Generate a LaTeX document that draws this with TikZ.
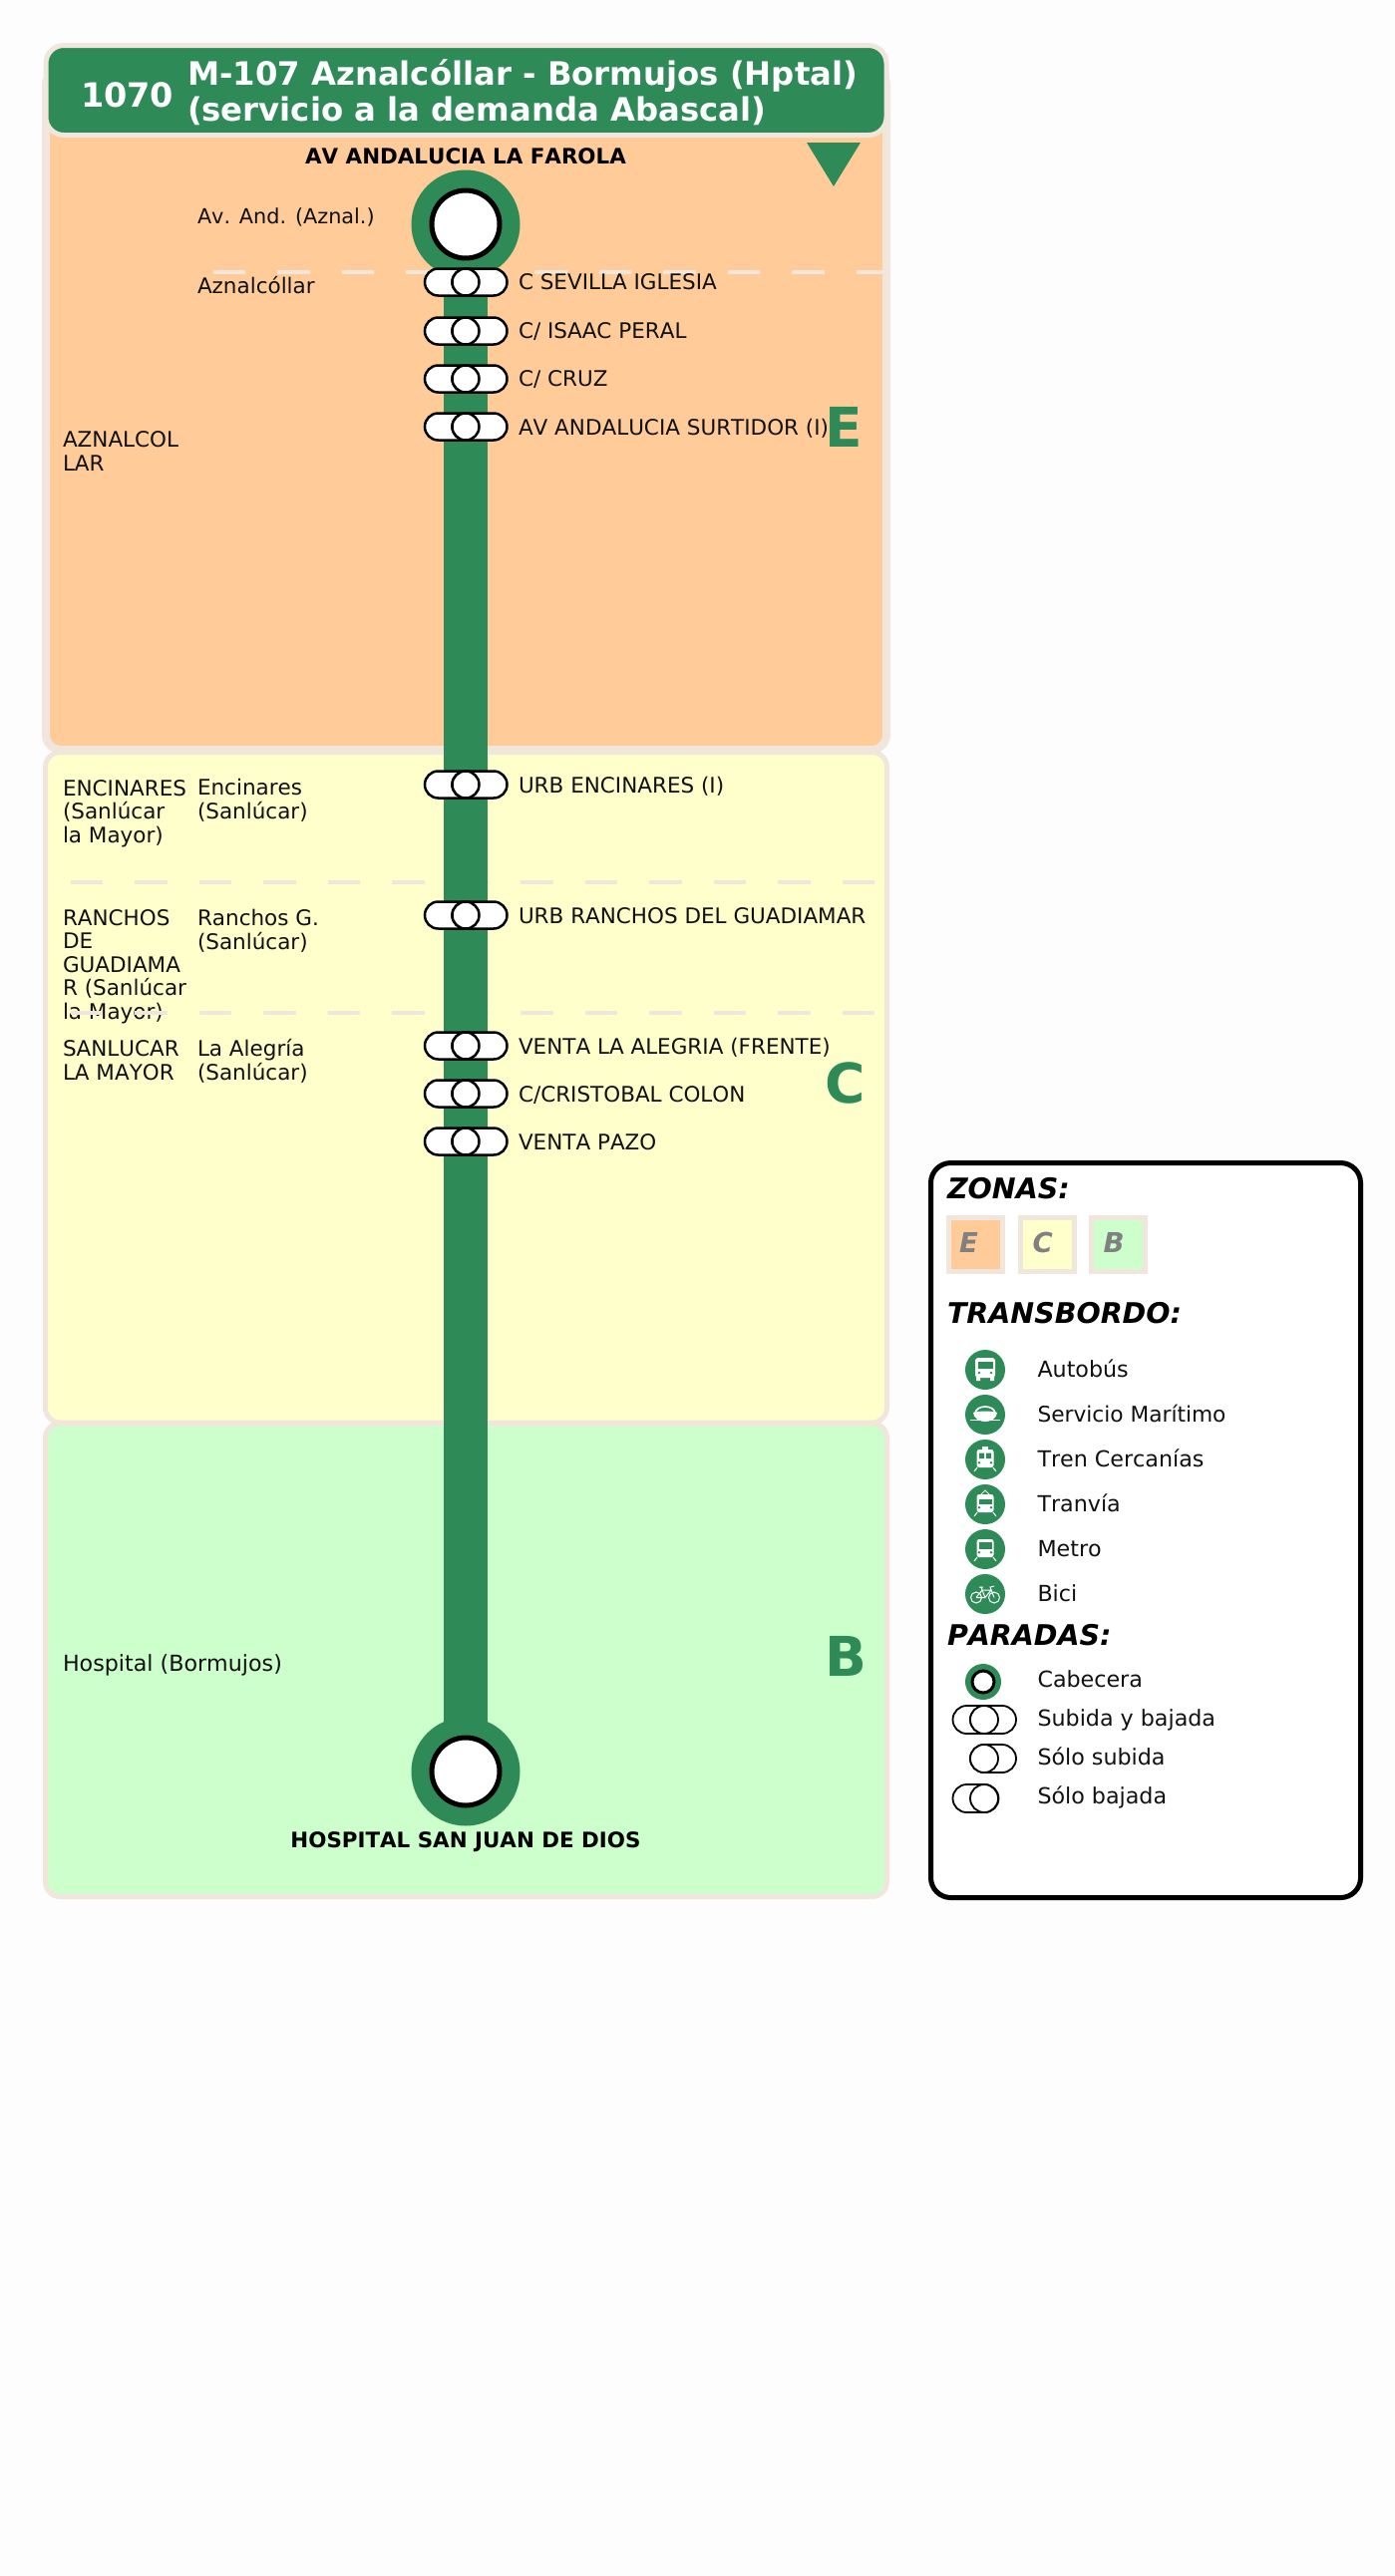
\documentclass[tikz,border=0pt]{standalone}
\usepackage{fontspec}
\setmainfont[Kerning=Off]{DejaVu Sans}
\usetikzlibrary{shapes.misc}
\definecolor{lineg}{HTML}{2E8B57}
\definecolor{edgec}{HTML}{F0E6DC}
\definecolor{zoneE}{HTML}{FFCC99}
\definecolor{zoneC}{HTML}{FFFFCC}
\definecolor{zoneB}{HTML}{CCFFCC}
\definecolor{ink}{HTML}{111111}
\tikzset{
  every node/.style={inner sep=0pt,outer sep=0pt},
  lbl/.style={anchor=base west,text=ink,align=left,font=\fontsize{21.5}{23.5}\selectfont},
  stoplbl/.style={anchor=base west,text=ink,font=\fontsize{21.5}{23.5}\selectfont},
  endlbl/.style={anchor=base,text=black,font=\bfseries\fontsize{21.4}{24}\selectfont},
  zoneletter/.style={anchor=base west,text=lineg,font=\bfseries\fontsize{55}{55}\selectfont},
  titlelbl/.style={anchor=base west,text=white,font=\bfseries\fontsize{32.3}{36}\selectfont},
  codelbl/.style={anchor=base west,text=white,font=\bfseries\fontsize{33.5}{36}\selectfont},
  legendhead/.style={anchor=base west,text=black,font=\bfseries\itshape\fontsize{28.5}{30}\selectfont},
  legendlbl/.style={anchor=base west,text=ink,font=\fontsize{22.2}{24}\selectfont},
  swatch/.style={draw=edgec,line width=5pt,minimum size=54pt,anchor=center},
  swatchletter/.style={anchor=base west,text=gray,font=\bfseries\itshape\fontsize{27.5}{29}\selectfont},
  zonebox/.style={draw=edgec,line width=#1,rounded corners=15pt},
  zonebox/.default=5pt,
  sepline/.style={draw=edgec,line width=4pt,dash pattern=on 32.5pt off 32pt},
  route/.style={draw=lineg,line width=44pt},
  halo/.style={circle,fill=lineg,minimum size=109pt},
  hole/.style={circle,draw=black,fill=white,line width=5pt,minimum size=68pt},
  pill/.style={rounded rectangle,draw=black,fill=white,line width=2.5pt,minimum width=55pt,minimum height=27pt},
  mid/.style={circle,draw=black,fill=white,line width=2.5pt,minimum size=27pt},
  pillS/.style={rounded rectangle,draw=black,fill=white,line width=1.8pt,minimum width=46pt,minimum height=28pt},
  midS/.style={circle,draw=black,fill=white,line width=1.8pt,minimum size=28pt},
  iconbg/.style={circle,fill=lineg,minimum size=40pt},
  ic/.style={fill=white,draw=none},
  icg/.style={fill=lineg,draw=none},
  icl/.style={draw=white,line width=1pt,fill=none},
}
\newcommand{\stopmark}[2]{%
  \node[pill] (#1L) at (453.5,#2) {};
  \node[pill] (#1R) at (481,#2) {};
  \node[mid] (#1C) at (467,#2) {};
}
\newcommand{\railvehicle}[1]{% body shared by the three rail icons
  \fill[ic,rounded corners=2.5pt] (-8.5,-10) rectangle (8.5,8);
  \draw[icl] (-8,8) -- (-11,12) (8,8) -- (11,12);
  #1
  \fill[icg] (-6,3.2) circle (1.3) (6,3.2) circle (1.3);
}
\begin{document}
\begin{tikzpicture}[x=1pt,y=-1pt]
\useasboundingbox (0,0) rectangle (1399,2584);
\fill[white!99.4!black] (0,0) rectangle (1399,2584);

% zones
\draw[zonebox=8pt,fill=zoneE] (46,70) rectangle (889,752);
\draw[zonebox,fill=zoneC] (45.5,754.5) rectangle (889.5,1427);
\draw[zonebox,fill=zoneB] (45.5,1427.5) rectangle (889.5,1902.5);

% header
\draw[draw=edgec,line width=5pt,fill=lineg,rounded corners=18pt] (46,45.5) rectangle (889,135.5);
\node[codelbl] (code) at (81,107) {1070};
\node[titlelbl] (title1) at (188,85) {M-107 Aznalcóllar - Bormujos (Hptal)};
\node[titlelbl] (title2) at (188,121) {(servicio a la demanda Abascal)};

% direction marker
\fill[lineg] (809,143) -- (863,143) -- (836,187) -- cycle;

% municipality and locality labels
\node[lbl,font=\fontsize{20.8}{23.5}\selectfont] (locA) at (198,224) {Av. And. (Aznal.)};
\node[lbl] (locB) at (198,294) {Aznalcóllar};
\node[lbl] (munA) at (63,472) {AZNALCOL\\LAR};
\node[lbl] (munB) at (63,845) {ENCINARES\\(Sanlúcar\\la Mayor)};
\node[lbl] (locC) at (198,821) {Encinares\\(Sanlúcar)};
\node[lbl] (munC) at (63,1022) {RANCHOS\\DE\\GUADIAMA\\R (Sanlúcar\\la Mayor)};
\node[lbl] (locD) at (198,952) {Ranchos G.\\(Sanlúcar)};
\node[lbl] (munD) at (63,1083) {SANLUCAR\\LA MAYOR};
\node[lbl] (locE) at (198,1083) {La Alegría\\(Sanlúcar)};
\node[lbl,font=\fontsize{22.2}{24}\selectfont] (locF) at (63,1676) {Hospital (Bormujos)};

% zone separators
\path[sepline] (213.5,273) -- (887,273);
\path[sepline] (70.5,885) -- (880,885);
\path[sepline] (70.5,1016) -- (880,1016);

% zone letters
\node[zoneletter] (letE) at (827.5,448) {E};
\node[zoneletter] (letC) at (827.5,1106) {C};
\node[zoneletter] (letB) at (827.5,1681) {B};

% route
\node[halo] (startHalo) at (467,225) {};
\node[halo] (endHalo) at (467,1777) {};
\draw[route] (startHalo.center) -- (endHalo.center);
\node[hole] (startHole) at (467,225) {};
\node[hole] (endHole) at (467,1777) {};

% stops
\stopmark{s1}{283}
\stopmark{s2}{332}
\stopmark{s3}{380}
\stopmark{s4}{428}
\stopmark{s5}{787}
\stopmark{s6}{918}
\stopmark{s7}{1049}
\stopmark{s8}{1097}
\stopmark{s9}{1145}

\node[endlbl] (nameStart) at (467,164) {AV ANDALUCIA LA FAROLA};
\node[endlbl] (nameEnd) at (467,1853) {HOSPITAL SAN JUAN DE DIOS};
\node[stoplbl] (n1) at (520,290) {C SEVILLA IGLESIA};
\node[stoplbl] (n2) at (520,339) {C/ ISAAC PERAL};
\node[stoplbl] (n3) at (520,387) {C/ CRUZ};
\node[stoplbl] (n4) at (520,436) {AV ANDALUCIA SURTIDOR (I)};
\node[stoplbl] (n5) at (520,795) {URB ENCINARES (I)};
\node[stoplbl] (n6) at (520,926) {URB RANCHOS DEL GUADIAMAR};
\node[stoplbl] (n7) at (520,1057) {VENTA LA ALEGRIA (FRENTE)};
\node[stoplbl] (n8) at (520,1105) {C/CRISTOBAL COLON};
\node[stoplbl] (n9) at (520,1153) {VENTA PAZO};

% legend
\draw[draw=black,line width=5pt,fill=white,rounded corners=20pt] (933.5,1166.5) rectangle (1364.5,1903.5);
\node[legendhead] (hZ) at (950,1202) {ZONAS:};
\node[swatch,fill=zoneE] (swE) at (978.5,1248) {};
\node[swatch,fill=zoneC] (swC) at (1050,1248) {};
\node[swatch,fill=zoneB] (swB) at (1121.5,1248) {};
\node[swatchletter] (swEt) at (962,1256) {E};
\node[swatchletter] (swCt) at (1035.5,1256) {C};
\node[swatchletter] (swBt) at (1106.5,1256) {B};
\node[legendhead] (hT) at (950,1327) {TRANSBORDO:};
\node[legendhead] (hP) at (950,1650) {PARADAS:};

\node[iconbg] (i1) at (988,1374) {};
\node[iconbg] (i2) at (988,1419) {};
\node[iconbg] (i3) at (988,1464) {};
\node[iconbg] (i4) at (988,1509) {};
\node[iconbg] (i5) at (988,1554) {};
\node[iconbg] (i6) at (988,1599) {};

% bus
\begin{scope}[shift={(i1.center)}]
  \fill[ic,rounded corners=3pt] (-10,-12) rectangle (10,8);
  \fill[ic] (-9,7) rectangle (-5,11) (5,7) rectangle (9,11);
  \fill[icg] (-7.5,-8.5) rectangle (7.5,-1.5);
  \fill[icg] (-6,3) circle (1.4) (6,3) circle (1.4);
\end{scope}
% boat
\begin{scope}[shift={(i2.center)}]
  \draw[white,line width=1.6pt] (-10,-2) .. controls (-8,-10) and (8,-10) .. (10,-2);
  \fill[ic] (-12,-2) .. controls (-5,-4) and (5,-4) .. (12,-2) .. controls (11,10) and (-11,10) .. (-12,-2) -- cycle;
  \draw[icl] (-15,5) -- (15,5);
\end{scope}
% train
\begin{scope}[shift={(i3.center)}]
  \railvehicle{\fill[icg] (-6,-6.5) rectangle (-1,-1) (1,-6.5) rectangle (6,-1);
    \fill[ic] (-3,-13) rectangle (3,-10);}
\end{scope}
% tram
\begin{scope}[shift={(i4.center)}]
  \railvehicle{\fill[icg] (-6.5,-5.5) rectangle (6.5,0);
    \draw[icl] (-4,-10) -- (0,-14) -- (4,-10);}
\end{scope}
% metro
\begin{scope}[shift={(i5.center)}]
  \railvehicle{\fill[icg] (-6.5,-7.5) rectangle (6.5,0);}
\end{scope}
% bicycle
\begin{scope}[shift={(i6.center)}]
  \draw[icl] (-9,3.5) circle (5.5) (9,3.5) circle (5.5);
  \draw[icl] (-9,3.5) -- (-3,-4) -- (6,-4) -- (0,3.5) -- (-9,3.5) (-3,-4) -- (0,3.5) (9,3.5) -- (5,-7) -- (9,-8) (-3,-4) -- (-4,-7) (-6,-7) -- (-2,-7);
\end{scope}

\node[legendlbl] (l1) at (1040.5,1381) {Autobús};
\node[legendlbl,font=\fontsize{21.7}{24}\selectfont] (l2) at (1040.5,1426) {Servicio Marítimo};
\node[legendlbl] (l3) at (1040.5,1471) {Tren Cercanías};
\node[legendlbl] (l4) at (1040.5,1516) {Tranvía};
\node[legendlbl] (l5) at (1040.5,1561) {Metro};
\node[legendlbl] (l6) at (1040.5,1606) {Bici};

\node[circle,fill=lineg,minimum size=36pt] (k1h) at (986,1687) {};
\node[circle,draw=black,fill=white,line width=3pt,minimum size=22pt] (k1c) at (986,1687) {};
\node[pillS] (k2L) at (978.5,1725) {};
\node[pillS] (k2R) at (996,1725) {};
\node[midS] (k2C) at (987,1725) {};
\node[pillS] (k3R) at (996,1764) {};
\node[midS] (k3C) at (987,1764) {};
\node[pillS] (k4L) at (978.5,1804) {};
\node[midS] (k4C) at (987,1804) {};
\node[legendlbl] (t1) at (1040.5,1692) {Cabecera};
\node[legendlbl] (t2) at (1040.5,1731) {Subida y bajada};
\node[legendlbl] (t3) at (1040.5,1770) {Sólo subida};
\node[legendlbl] (t4) at (1040.5,1809) {Sólo bajada};
\end{tikzpicture}
\end{document}
